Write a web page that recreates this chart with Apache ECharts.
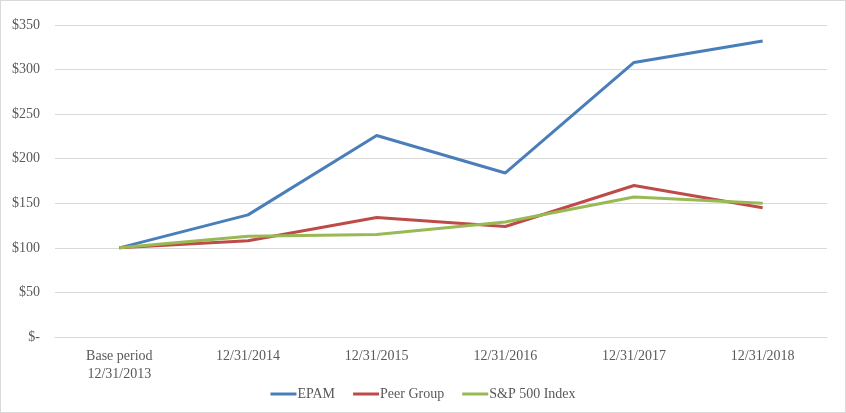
<!DOCTYPE html>
<html><head><meta charset="utf-8">
<script src="https://cdn.jsdelivr.net/npm/echarts@6/dist/echarts.min.js"></script>
<style>html,body{margin:0;padding:0;background:#fff}#c{width:846px;height:413px;box-sizing:border-box;border:1px solid #d9d9d9}</style>
</head><body><div id="c"></div>
<script>
var categories = ['Base period\n12/31/2013','12/31/2014','12/31/2015','12/31/2016','12/31/2017','12/31/2018'];
var epam = [100, 137, 226, 184, 308, 332];
var peer = [100, 108, 134, 124, 170, 145];
var sp500 = [100, 113, 115, 129, 157, 150];
var yTicks = [0, 50, 100, 150, 200, 250, 300, 350];

var chart = echarts.init(document.getElementById('c'));
var font = 'Liberation Serif, Times New Roman, serif';
function mk(name, data, color) {
  return {name: name, type: 'line', data: data, symbol: 'none', lineStyle: {width: 3, color: color}, itemStyle: {color: color}};
}
chart.setOption({
  animation: false,
  grid: {left: 54, right: 18, top: 24, bottom: 75},
  legend: {
    bottom: 6, left: 'center', itemWidth: 26, itemHeight: 3, itemGap: 18, icon: 'rect',
    textStyle: {fontFamily: font, fontSize: 14, color: '#595959', padding: [0,0,0,-4]},
    data: ['EPAM','Peer Group','S&P 500 Index']
  },
  xAxis: {
    type: 'category', data: categories, boundaryGap: true,
    axisLine: {lineStyle: {color: '#d9d9d9'}}, axisTick: {show: false},
    axisLabel: {fontFamily: font, fontSize: 14, color: '#595959', margin: 10, lineHeight: 18}
  },
  yAxis: {
    type: 'value', min: 0, max: 350, interval: 50,
    axisLine: {show: false}, axisTick: {show: false},
    splitLine: {lineStyle: {color: '#d9d9d9'}},
    axisLabel: {fontFamily: font, fontSize: 14, color: '#595959', margin: 15,
      formatter: function(v){ return v === 0 ? '$-' : '$' + v; }}
  },
  series: [mk('EPAM', epam, '#4a7ebb'), mk('Peer Group', peer, '#be4b48'), mk('S&P 500 Index', sp500, '#98b954')]
});
</script></body></html>
